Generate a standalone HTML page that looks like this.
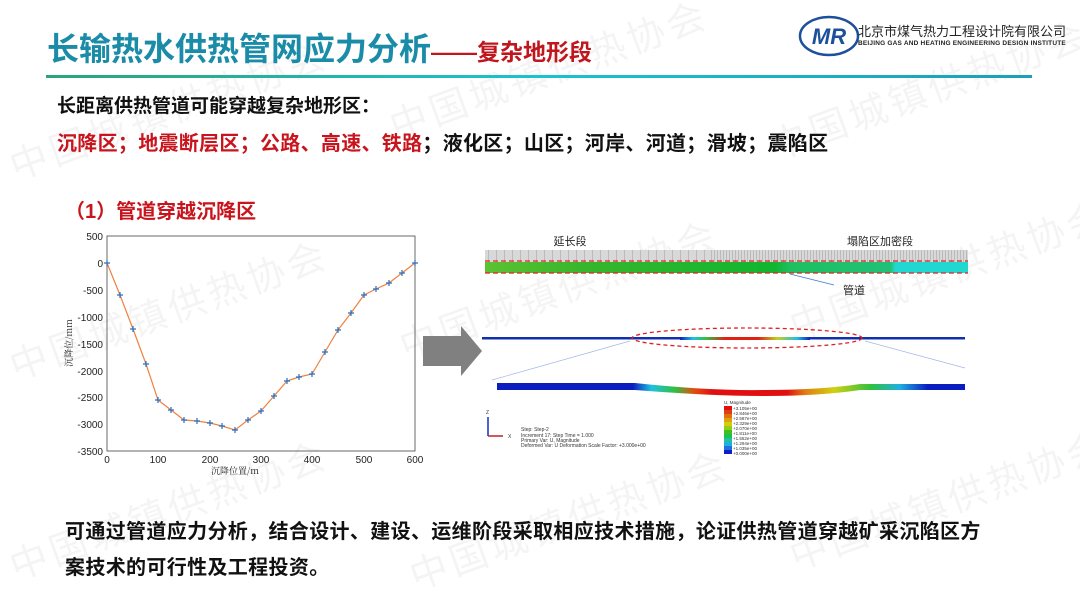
<!DOCTYPE html>
<html><head><meta charset="utf-8"><style>
body{margin:0;width:1080px;height:608px;background:#fff;overflow:hidden;position:relative;font-family:"Liberation Sans","Noto Sans CJK SC",sans-serif}
.t{position:absolute;white-space:nowrap;font-weight:bold}
.wm{position:absolute;color:rgba(0,0,0,0.045);font-size:38px;transform:rotate(-20deg);white-space:nowrap;font-family:"Noto Sans CJK SC",sans-serif;letter-spacing:4px}
</style></head><body>
<div class="wm" style="left:0;top:80px">中国城镇供热协会</div>
<div class="wm" style="left:380px;top:40px">中国城镇供热协会</div>
<div class="wm" style="left:760px;top:60px">中国城镇供热协会</div>
<div class="wm" style="left:0;top:280px">中国城镇供热协会</div>
<div class="wm" style="left:390px;top:260px">中国城镇供热协会</div>
<div class="wm" style="left:780px;top:240px">中国城镇供热协会</div>
<div class="wm" style="left:0;top:480px">中国城镇供热协会</div>
<div class="wm" style="left:400px;top:490px">中国城镇供热协会</div>
<div class="wm" style="left:780px;top:470px">中国城镇供热协会</div>

<div class="t" style="left:47px;top:24px;font-size:32px;color:#1a8ca8">长输热水供热管网应力分析<span style="font-size:23px;color:#c0161e">——复杂地形段</span></div>
<div style="position:absolute;left:46px;top:75px;width:986px;height:3px;background:linear-gradient(90deg,#2aa579,#19c3d0 50%,#1aa0b8)"></div>

<svg style="position:absolute;left:798px;top:14px" width="62" height="44"><ellipse cx="31" cy="22" rx="29" ry="19" fill="none" stroke="#1c4f9c" stroke-width="2.5"/><text x="31" y="30" text-anchor="middle" font-size="22" font-style="italic" font-weight="bold" fill="#1c4f9c" font-family="Liberation Sans">MR</text></svg>
<div class="t" style="left:858px;top:21px;font-size:13px;font-weight:normal;color:#222">北京市煤气热力工程设计院有限公司</div>
<div class="t" style="left:858px;top:40px;font-size:6.5px;color:#222;letter-spacing:0.2px">BEIJING GAS AND HEATING ENGINEERING DESIGN INSTITUTE</div>

<div class="t" style="left:57px;top:91px;font-size:19px;color:#111">长距离供热管道可能穿越复杂地形区：</div>
<div class="t" style="left:57px;top:127px;font-size:20px;color:#111;letter-spacing:0.3px"><span style="color:#c8141c">沉降区；地震断层区；公路、高速、铁路</span>；液化区；山区；河岸、河道；滑坡；震陷区</div>
<div class="t" style="left:65px;top:195px;font-size:20px;color:#c8141c">（1）管道穿越沉降区</div>

<svg style="position:absolute;left:0;top:0" width="1080" height="608" font-family="Liberation Sans">
<g font-size="10" fill="#222" text-anchor="end">
<rect x="107" y="236" width="308" height="215" fill="none" stroke="#444" stroke-width="0.8"/>
<text x="103" y="240">500</text><text x="103" y="267">0</text><text x="103" y="294">-500</text><text x="103" y="321">-1000</text><text x="103" y="348">-1500</text><text x="103" y="375">-2000</text><text x="103" y="401">-2500</text><text x="103" y="428">-3000</text><text x="103" y="455">-3500</text>
</g>
<g font-size="10" fill="#222" text-anchor="middle">
<text x="107" y="463">0</text><text x="158" y="463">100</text><text x="210" y="463">200</text><text x="261" y="463">300</text><text x="312" y="463">400</text><text x="364" y="463">500</text><text x="415" y="463">600</text>
<text x="235" y="474" font-size="9" font-family="Noto Serif CJK SC">沉降位置/m</text>
<text transform="translate(72,343) rotate(-90)" font-size="9" font-family="Noto Serif CJK SC">沉降位/mm</text>
</g>
<polyline fill="none" stroke="#f08040" stroke-width="1.2" points="107,263 120,295 133,329 146,364 158,400 171,410 184,420 197,421 210,423 222,426 235,430 248,420 261,411 274,396 287,381 299,377 312,374 325,352 338,330 351,313 364,295 376,289 389,283 402,273 415,263"/>
<g stroke="#2a6fc0" stroke-width="1.2">
<path d="M107,260v6M104,263h6M120,292v6M117,295h6M133,326v6M130,329h6M146,361v6M143,364h6M158,397v6M155,400h6M171,407v6M168,410h6M184,417v6M181,420h6M197,418v6M194,421h6M210,420v6M207,423h6M222,423v6M219,426h6M235,427v6M232,430h6M248,417v6M245,420h6M261,408v6M258,411h6M274,393v6M271,396h6M287,378v6M284,381h6M299,374v6M296,377h6M312,371v6M309,374h6M325,349v6M322,352h6M338,327v6M335,330h6M351,310v6M348,313h6M364,292v6M361,295h6M376,286v6M373,289h6M389,280v6M386,283h6M402,270v6M399,273h6M415,260v6M412,263h6"/>
</g>

<path d="M423,336h38v-10l21,25l-21,25v-10h-38z" fill="#808080"/>

<text x="570" y="245" font-size="11" text-anchor="middle" fill="#222" font-family="Noto Sans CJK SC">延长段</text>
<text x="880" y="245" font-size="11" text-anchor="middle" fill="#222" font-family="Noto Sans CJK SC">塌陷区加密段</text>
<defs><pattern id="vl" width="8" height="12" patternUnits="userSpaceOnUse"><line x1="0" y1="0" x2="0" y2="12" stroke="#777" stroke-width="0.6"/></pattern>
<pattern id="vl2" width="3" height="12" patternUnits="userSpaceOnUse"><line x1="0" y1="0" x2="0" y2="12" stroke="#777" stroke-width="0.6"/></pattern>
<linearGradient id="gb" x1="0" x2="1"><stop offset="0" stop-color="#5cc232"/><stop offset="0.2" stop-color="#37b62c"/><stop offset="0.6" stop-color="#10b530"/><stop offset="0.63" stop-color="#1fbf60"/><stop offset="0.84" stop-color="#20c078"/><stop offset="0.85" stop-color="#20d8d0"/><stop offset="1" stop-color="#20d8d0"/></linearGradient>
<linearGradient id="p1" x1="0" x2="1"><stop offset="0" stop-color="#1020c0"/><stop offset="0.1" stop-color="#20c0e0"/><stop offset="0.2" stop-color="#30c040"/><stop offset="0.35" stop-color="#e02010"/><stop offset="0.6" stop-color="#e02010"/><stop offset="0.75" stop-color="#c0d020"/><stop offset="0.9" stop-color="#20c0e0"/><stop offset="1" stop-color="#1020c0"/></linearGradient>
<linearGradient id="p2" x1="0" x2="1"><stop offset="0" stop-color="#0a1ec0"/><stop offset="0.29" stop-color="#0a1ec0"/><stop offset="0.33" stop-color="#20c0e0"/><stop offset="0.38" stop-color="#30c040"/><stop offset="0.42" stop-color="#e05010"/><stop offset="0.46" stop-color="#e01010"/><stop offset="0.62" stop-color="#e01010"/><stop offset="0.66" stop-color="#e08010"/><stop offset="0.72" stop-color="#d0d010"/><stop offset="0.8" stop-color="#30c040"/><stop offset="0.86" stop-color="#20b0e0"/><stop offset="0.92" stop-color="#0a1ec0"/><stop offset="1" stop-color="#0a1ec0"/></linearGradient></defs>
<rect x="485" y="250" width="483" height="12" fill="#d8d8d8"/>
<rect x="485" y="250" width="225" height="12" fill="url(#vl)"/>
<rect x="710" y="250" width="258" height="12" fill="url(#vl2)"/>
<rect x="485" y="262" width="483" height="11" fill="url(#gb)"/>
<line x1="485" y1="261" x2="968" y2="261" stroke="#e02020" stroke-width="1.2" stroke-dasharray="5,3"/>
<line x1="485" y1="273" x2="968" y2="273" stroke="#e02020" stroke-width="1.2" stroke-dasharray="5,3"/>
<line x1="790" y1="274" x2="834" y2="285" stroke="#3a7ad0" stroke-width="0.7"/>
<text x="843" y="294" font-size="11" fill="#222" font-family="Noto Sans CJK SC">管道</text>

<rect x="482" y="337" width="483" height="2.5" fill="#1030b0"/>
<rect x="680" y="337" width="130" height="3" fill="url(#p1)"/>
<ellipse cx="747" cy="338" rx="115" ry="10" fill="none" stroke="#e02020" stroke-width="1.3" stroke-dasharray="4,3"/>
<line x1="630" y1="341" x2="492" y2="380" stroke="#a0b8e8" stroke-width="0.7"/>
<line x1="865" y1="341" x2="965" y2="368" stroke="#a0b8e8" stroke-width="0.7"/>
<path d="M497,383 H635 Q710,391 765,390 Q820,390 860,384 H965 V390 H860 Q820,396 765,396 Q710,396 635,390 H497 Z" fill="url(#p2)"/>

<g font-size="4.5" fill="#333"><text x="724" y="404">U, Magnitude</text></g>
<g>
<rect x="724" y="406" width="8" height="4" fill="#e01010"/><rect x="724" y="410" width="8" height="4" fill="#e04010"/><rect x="724" y="414" width="8" height="4" fill="#e07010"/><rect x="724" y="418" width="8" height="4" fill="#e0a010"/><rect x="724" y="422" width="8" height="4" fill="#d0d010"/><rect x="724" y="426" width="8" height="4" fill="#90d010"/><rect x="724" y="430" width="8" height="4" fill="#40c020"/><rect x="724" y="434" width="8" height="4" fill="#20c050"/><rect x="724" y="438" width="8" height="4" fill="#20c0a0"/><rect x="724" y="442" width="8" height="4" fill="#20b0e0"/><rect x="724" y="446" width="8" height="4" fill="#2070e0"/><rect x="724" y="450" width="8" height="4" fill="#1020c0"/>
</g>
<g font-size="4.5" fill="#333"><text x="733" y="410">+3.105e+00</text><text x="733" y="415">+2.846e+00</text><text x="733" y="420">+2.587e+00</text><text x="733" y="425">+2.329e+00</text><text x="733" y="430">+2.070e+00</text><text x="733" y="435">+1.811e+00</text><text x="733" y="440">+1.552e+00</text><text x="733" y="445">+1.294e+00</text><text x="733" y="450">+1.035e+00</text><text x="733" y="455">+0.000e+00</text></g>
<line x1="488" y1="436" x2="488" y2="417" stroke="#1030c0" stroke-width="1.5"/><line x1="488" y1="436" x2="503" y2="436" stroke="#c02020" stroke-width="1.5"/>
<text x="486" y="414" font-size="5" fill="#333">Z</text><text x="508" y="438" font-size="5" fill="#333">X</text>
<g font-size="5" fill="#333"><text x="521" y="431">Step: Step-2</text><text x="521" y="437">Increment    17: Step Time =    1.000</text><text x="521" y="442">Primary Var: U, Magnitude</text><text x="521" y="447">Deformed Var: U   Deformation Scale Factor: +3.000e+00</text></g>
</svg>

<div class="t" style="left:65px;top:515px;font-size:20px;color:#111;letter-spacing:0.35px">可通过管道应力分析，结合设计、建设、运维阶段采取相应技术措施，论证供热管道穿越矿采沉陷区方</div>
<div class="t" style="left:65px;top:551px;font-size:20px;color:#111;letter-spacing:0.35px">案技术的可行性及工程投资。</div>
</body></html>
